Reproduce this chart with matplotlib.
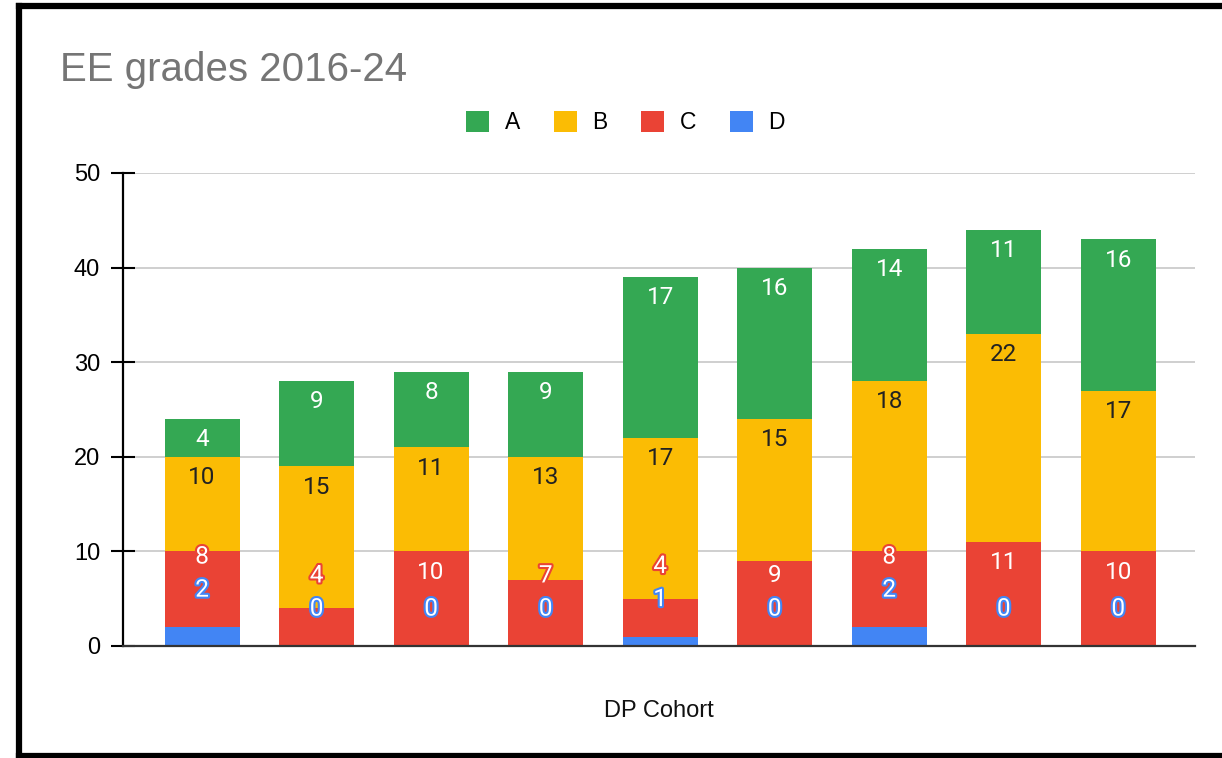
import matplotlib.pyplot as plt
import matplotlib.patheffects as pe
from matplotlib.patches import Patch
from matplotlib.lines import Line2D
import numpy as np


# Data (one bar per DP cohort, stacked D -> C -> B -> A)

cohorts = ["2016", "2017", "2018", "2019", "2020", "2021", "2022", "2023", "2024"]

grade_D = [2, 0, 0, 0, 1, 0, 2, 0, 0]
grade_C = [8, 4, 10, 7, 4, 9, 8, 11, 10]
grade_B = [10, 15, 11, 13, 17, 15, 18, 22, 17]
grade_A = [4, 9, 8, 9, 17, 16, 14, 11, 16]

colors = {"A": "#34A853", "B": "#FBBC04", "C": "#EA4335", "D": "#4285F4"}

label_font = "Roboto"
axis_font = "Liberation Sans"


fig = plt.figure(figsize=(12.22, 7.58), dpi=100)
ax = fig.add_axes([0.1007, 0.1478, 0.8772, 0.624])

x = np.arange(len(cohorts))
width = 0.655

d = np.array(grade_D)
c = np.array(grade_C)
b = np.array(grade_B)
a = np.array(grade_A)

ax.bar(x, d, width, color=colors["D"], zorder=3)
ax.bar(x, c, width, bottom=d, color=colors["C"], zorder=3)
ax.bar(x, b, width, bottom=d + c, color=colors["B"], zorder=3)
ax.bar(x, a, width, bottom=d + c + b, color=colors["A"], zorder=3)

# data labels: placed just inside the top of each segment,
# D sits above its segment and pushes the C label up when they collide
inset = 2.2
fs = 17.5
for i in range(len(x)):
    top_d = d[i]
    top_c = d[i] + c[i]
    top_b = top_c + b[i]
    top_a = top_b + a[i]

    ax.text(x[i], top_a - inset, str(a[i]), ha="center", va="center",
            color="white", fontsize=fs, family=label_font, zorder=5)
    ax.text(x[i], top_b - inset, str(b[i]), ha="center", va="center",
            color="#222222", fontsize=fs, family=label_font, zorder=5)

    y_d = top_d + 3.9
    y_c = max(top_c - inset, y_d + 3.5)
    pushed = (y_d + 3.5) - (top_c - inset) > 1.0

    t = ax.text(x[i], y_c, str(c[i]), ha="center", va="center",
                color="white", fontsize=fs, family=label_font, zorder=5)
    if pushed:
        t.set_path_effects([pe.withStroke(linewidth=3, foreground=colors["C"])])
    t = ax.text(x[i], y_d, str(d[i]), ha="center", va="center",
                color="white", fontsize=fs, family=label_font, zorder=5)
    t.set_path_effects([pe.withStroke(linewidth=3, foreground=colors["D"])])

ax.set_xlim(-0.69, 8.67)
ax.set_ylim(0, 50)
ax.set_yticks([0, 10, 20, 30, 40, 50])
ax.set_xticks([])

ax.yaxis.grid(True, color="#CCCCCC", linewidth=1.3, zorder=0)
ax.set_axisbelow(True)

for s in ["top", "right"]:
    ax.spines[s].set_visible(False)
ax.spines["left"].set_linewidth(1.6)
ax.spines["left"].set_color("black")
ax.spines["bottom"].set_linewidth(1.6)
ax.spines["bottom"].set_color("#333333")
ax.spines["bottom"].set_zorder(4)

ax.tick_params(axis="y", direction="inout", length=17, width=1.5,
               pad=8, labelsize=17, colors="black")
for lab in ax.get_yticklabels():
    lab.set_family(axis_font)

ax.set_xlabel("DP Cohort", fontsize=17, family=axis_font, labelpad=39,
              color="#111111")

fig.text(0.049, 0.908, "EE grades 2016-24", fontsize=29, family=axis_font,
         color="#757575", ha="left", va="center")

handles = [Patch(facecolor=colors[k], edgecolor="none", label=k) for k in ["A", "B", "C", "D"]]
leg = fig.legend(handles=handles, loc="center", bbox_to_anchor=(0.512, 0.838),
                 ncol=4, frameon=False, handlelength=1.0, handleheight=1.0,
                 handletextpad=0.7, columnspacing=1.45,
                 prop={"family": axis_font, "size": 16.5})

# black frame round the picture (right edge is cut off in the screenshot)
fx0, fy0, fy1 = 0.0155, 0.0026, 0.992
for xs, ys in [([fx0, fx0], [fy0, fy1]), ([fx0, 1.0], [fy1, fy1]), ([fx0, 1.0], [fy0, fy0])]:
    fig.add_artist(Line2D(xs, ys, transform=fig.transFigure, color="black",
                          linewidth=4.5, solid_capstyle="projecting"))

plt.savefig("out.png", dpi=100)
